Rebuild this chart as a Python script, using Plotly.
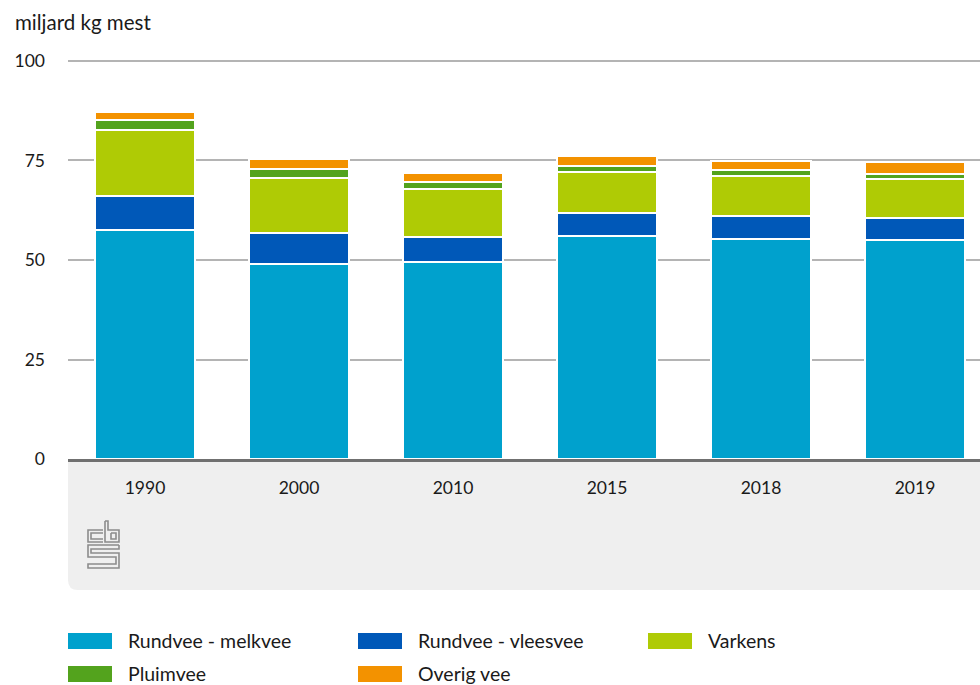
import plotly.graph_objects as go

# Manure production by livestock category (billion kg)
years = ["1990", "2000", "2010", "2015", "2018", "2019"]
series_names = ["Rundvee - melkvee", "Rundvee - vleesvee", "Varkens", "Pluimvee", "Overig vee"]
melkvee = [57.5, 49.1, 49.5, 56.0, 55.2, 55.0]
vleesvee = [8.6, 7.7, 6.4, 5.8, 5.8, 5.6]
varkens = [16.6, 13.9, 11.9, 10.3, 10.0, 9.7]
pluimvee = [2.5, 2.2, 1.7, 1.6, 1.5, 1.3]
overig = [2.0, 2.4, 2.4, 2.4, 2.4, 2.9]
series_values = [melkvee, vleesvee, varkens, pluimvee, overig]
colors = ["#00a1cd", "#0058b8", "#afcb05", "#53a31d", "#f39200"]
y_ticks = [0, 25, 50, 75, 100]
y_max = 100.5

W, H = 980, 685
L, R, T, B = 68, 0, 59, 226
PW, PH = W - L - R, H - T - B

FONT = "Lato"
TEXT = "#1a1a1a"


def px(x):
    return (x - L) / PW


def py(y):
    return (T + PH - y) / PH


fig = go.Figure()
for name, vals, col in zip(series_names, series_values, colors):
    fig.add_trace(go.Bar(
        x=years, y=vals, name=name, marker_color=col,
        marker_line=dict(color="white", width=2),
        showlegend=False,
    ))

shapes = []
# grey footer panel under the axis, rounded bottom-left corner
r = 10
shapes.append(dict(
    type="path", xref="paper", yref="paper", layer="below",
    path=(f"M {px(L)} {py(T+PH)} L {px(W)} {py(T+PH)} L {px(W)} {py(590)} "
          f"L {px(L+r)} {py(590)} Q {px(L)} {py(590)} {px(L)} {py(590-r)} Z"),
    fillcolor="#efefef", line=dict(width=0),
))

# cbs logo drawn as outlined strokes
logo_col = "#8c8c8c"
logo_paths = [
    # c
    [(103, 530), (88, 530), (88, 542), (103, 542)],
    [(103, 533), (91, 533), (91, 539), (103, 539)],
    # b
    [(105, 521), (105, 542), (119, 542), (119, 530), (108, 530), (108, 521), (105, 521)],
    [(111, 533), (116, 533), (116, 539), (111, 539), (111, 533)],
    # S
    [(119, 545), (88, 545), (88, 557), (116, 557), (116, 564), (88, 564), (88, 568), (119, 568), (119, 553), (91, 553), (91, 549), (119, 549), (119, 545)],
]
for pts in logo_paths:
    d = "M " + " L ".join(f"{px(x)} {py(y)}" for x, y in pts)
    shapes.append(dict(type="path", xref="paper", yref="paper", path=d,
                       line=dict(color=logo_col, width=1.6)))

annotations = [dict(
    text="miljard kg mest", xref="paper", yref="paper",
    x=px(13), y=py(22), xanchor="left", yanchor="middle",
    showarrow=False, font=dict(family=FONT, size=20.5, color=TEXT),
)]

# legend: three columns, two rows
col_x = [68, 358, 648]
row_y = [641, 674]
for i, (name, col) in enumerate(zip(series_names, colors)):
    cx = col_x[i % 3]
    cy = row_y[i // 3]
    shapes.append(dict(type="rect", xref="paper", yref="paper",
                       x0=px(cx), x1=px(cx + 44), y0=py(cy - 8), y1=py(cy + 8),
                       fillcolor=col, line=dict(width=0)))
    annotations.append(dict(text=name, xref="paper", yref="paper",
                            x=px(cx + 58), y=py(cy - 1), xanchor="left", yanchor="middle",
                            showarrow=False, font=dict(family=FONT, size=19.5, color=TEXT)))

fig.update_layout(
    width=W, height=H,
    margin=dict(l=L, r=R, t=T, b=B, pad=0),
    paper_bgcolor="white", plot_bgcolor="white",
    barmode="stack", bargap=0.35,
    font=dict(family=FONT, size=17.5, color=TEXT),
    shapes=shapes, annotations=annotations,
    xaxis=dict(
        type="category", range=[-0.5, -0.5 + PW / 154],
        showgrid=False, showline=True, linecolor="#707070", linewidth=3,
        ticks="", ticklabelstandoff=11, tickfont=dict(size=17.5, color=TEXT),
        fixedrange=True,
    ),
    yaxis=dict(
        range=[0, y_max], tickvals=y_ticks, ticktext=[str(v) for v in y_ticks],
        showgrid=True, gridcolor="#b4b4b4", gridwidth=1.5,
        zeroline=False, showline=False, ticks="",
        ticklabelstandoff=22, tickfont=dict(size=17.5, color=TEXT),
        fixedrange=True,
    ),
)

fig.write_html("out.html")
